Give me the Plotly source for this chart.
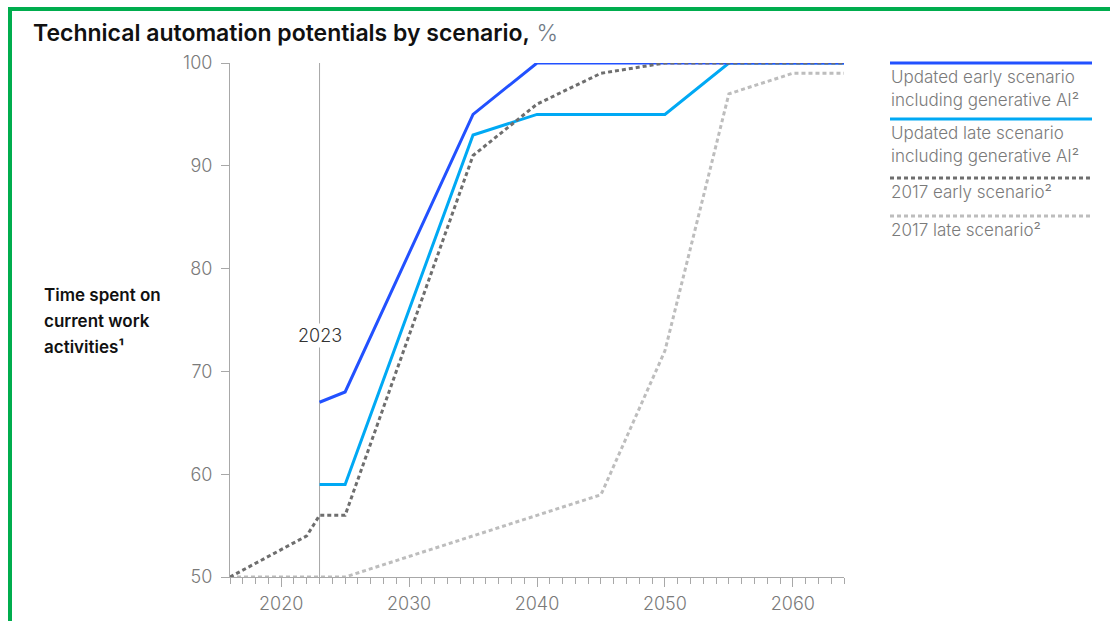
import plotly.graph_objects as go

# ---- data ----
early_new_x = [2023, 2025, 2035, 2040, 2064]
early_new_y = [67, 68, 95, 100, 100]
late_new_x = [2023, 2025, 2035, 2040, 2050, 2055, 2064]
late_new_y = [59, 59, 93, 95, 95, 100, 100]
early_2017_x = [2016, 2022, 2023, 2025, 2035, 2040, 2045, 2050, 2064]
early_2017_y = [50, 54, 56, 56, 91, 96, 99, 100, 100]
late_2017_x = [2016, 2025, 2045, 2050, 2055, 2060, 2064]
late_2017_y = [50, 50, 58, 72, 97, 99, 99]
x_ticks = [2020, 2030, 2040, 2050, 2060]
y_ticks = [50, 60, 70, 80, 90, 100]
marker_year = 2023

C_EARLY = "#2251FF"
C_LATE = "#00A9F4"
C_E17 = "#6E6E6E"
C_L17 = "#BDBDBD"
GRID = "#A8A8A8"
TXT = "#7A7A7A"
FONT = "Inter"

fig = go.Figure()
fig.add_trace(go.Scatter(x=late_2017_x, y=late_2017_y, mode="lines",
                         line=dict(color=C_L17, width=3, dash="4px,3px"), cliponaxis=False))
fig.add_trace(go.Scatter(x=late_new_x, y=late_new_y, mode="lines",
                         line=dict(color=C_LATE, width=3), cliponaxis=False))
fig.add_trace(go.Scatter(x=early_new_x, y=early_new_y, mode="lines",
                         line=dict(color=C_EARLY, width=3), cliponaxis=False))
fig.add_trace(go.Scatter(x=early_2017_x, y=early_2017_y, mode="lines",
                         line=dict(color=C_E17, width=3, dash="4px,3px"), cliponaxis=False))

# 2023 marker line
fig.add_shape(type="line", xref="x", yref="y", x0=marker_year, x1=marker_year, y0=50, y1=100,
              line=dict(color=GRID, width=1), layer="below")
fig.add_annotation(x=marker_year, y=73.5, xref="x", yref="y", text="2023", showarrow=False,
                   bgcolor="white", font=dict(family=FONT, size=18, color="#333333", weight=300))

W, H = 1110, 621
L, R, T, B = 230, 266, 63, 44
pw, ph = W - L - R, H - T - B

def px(x):
    return (x - L) / pw

def py(y):
    return 1 - (y - T) / ph

# title
fig.add_annotation(xref="paper", yref="paper", x=px(31), y=py(33), xanchor="left", yanchor="middle",
                   showarrow=False,
                   text="<span style='color:#111111;font-weight:600'>Technical automation potentials by scenario,</span><span style='color:#6F7A86;font-weight:300'> %</span>",
                   font=dict(family=FONT, size=23))

# y label
for i, t in enumerate(["Time spent on", "current work", "activities¹"]):
    fig.add_annotation(xref="paper", yref="paper", x=px(42), y=py(295 + i * 26), xanchor="left",
                       yanchor="middle", showarrow=False, text=t,
                       font=dict(family=FONT, size=17, color="#111111", weight=600))

# legend
legend = [
    (63, C_EARLY, None, ["Updated early scenario", "including generative AI²"]),
    (119, C_LATE, None, ["Updated late scenario", "including generative AI²"]),
    (178, C_E17, "4px,3px", ["2017 early scenario²"]),
    (216, C_L17, "4px,3px", ["2017 late scenario²"]),
]
for ly, col, dash, lines in legend:
    d = dict(color=col, width=3)
    if dash:
        d["dash"] = dash
    fig.add_shape(type="line", xref="paper", yref="paper", x0=px(890), x1=px(1092), y0=py(ly), y1=py(ly), line=d)
    for j, t in enumerate(lines):
        fig.add_annotation(xref="paper", yref="paper", x=px(889), y=py(ly + 14 + j * 23), xanchor="left",
                           yanchor="middle", showarrow=False, text=t,
                           font=dict(family=FONT, size=17, color=TXT, weight=300))

# green frame
fig.add_shape(type="line", xref="paper", yref="paper", x0=px(10), x1=px(1115), y0=py(9), y1=py(9),
              line=dict(color="#00AD4E", width=4))
fig.add_shape(type="line", xref="paper", yref="paper", x0=px(10), x1=px(10), y0=py(7), y1=py(625),
              line=dict(color="#00AD4E", width=4))

fig.update_layout(
    width=W, height=H, margin=dict(l=L, r=R, t=T, b=B, autoexpand=False),
    paper_bgcolor="white", plot_bgcolor="white", showlegend=False,
    font=dict(family=FONT, color=TXT, size=16),
)
fig.update_xaxes(range=[2016, 2064], tickvals=x_ticks, showgrid=False, zeroline=False, automargin=False,
                 showline=True, linecolor=GRID, linewidth=1, ticks="outside", ticklen=9,
                 tickcolor=GRID, tickwidth=1, ticklabelstandoff=1,
                 tickfont=dict(family=FONT, size=18, color=TXT, weight=300),
                 minor=dict(dtick=1, tick0=2016, ticks="outside", ticklen=6, tickcolor=GRID, tickwidth=1, showgrid=False))
fig.update_yaxes(range=[50, 100], tickvals=y_ticks, showgrid=False, zeroline=False, automargin=False,
                 showline=True, linecolor=GRID, linewidth=1, ticks="outside", ticklen=8,
                 tickcolor=GRID, tickwidth=1, ticklabelstandoff=5,
                 tickfont=dict(family=FONT, size=18, color=TXT, weight=300))

fig.write_html("out.html")
